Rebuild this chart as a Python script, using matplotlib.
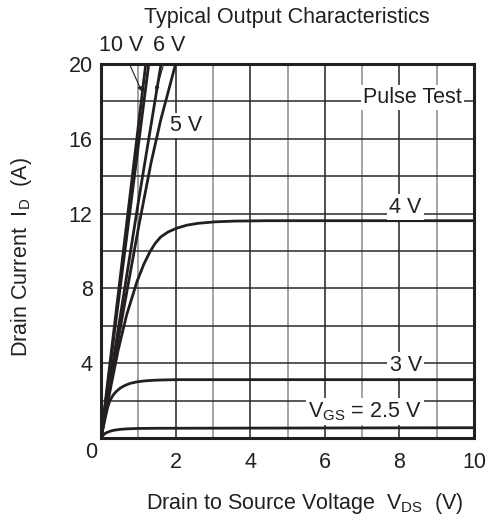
import matplotlib
matplotlib.use("Agg")
import matplotlib.pyplot as plt

plt.rcParams['font.family'] = ['Liberation Sans', 'DejaVu Sans']
plt.rcParams['mathtext.fontset'] = 'custom'
plt.rcParams['mathtext.rm'] = 'Liberation Sans'
plt.rcParams['mathtext.it'] = 'Liberation Sans'

# ---- data ----
v10_v = [0.0, 1.2, 1.4]
v10_i = [0.0, 20.0, 23.3]
v8_v = [0.0, 1.28, 1.5]
v8_i = [0.0, 20.0, 23.4]
v6_v = [0.0, 1.0, 1.61, 1.8]
v6_i = [0.0, 12.6, 20.0, 22.2]
v5_v = [0.0, 0.5, 1.0, 1.34, 1.6, 2.0, 2.2]
v5_i = [0.0, 5.7, 11.2, 14.7, 17.0, 20.0, 21.3]
v4_v = [0.0, 0.2, 0.46, 0.69, 0.97, 1.15, 1.31, 1.45, 1.6, 1.8, 2.03, 2.3, 2.6, 3.06, 3.6, 4.5, 10.0]
v4_i = [0.0, 2.1, 4.7, 6.6, 8.4, 9.3, 9.95, 10.4, 10.75, 11.02, 11.22, 11.38, 11.48, 11.56, 11.6, 11.62, 11.62]
v3_v = [0.0, 0.1, 0.18, 0.24, 0.32, 0.4, 0.51, 0.63, 0.78, 0.96, 1.15, 1.35, 1.58, 2.0, 10.0]
v3_i = [0.0, 0.95, 1.65, 2.0, 2.28, 2.47, 2.66, 2.8, 2.92, 3.0, 3.05, 3.08, 3.1, 3.12, 3.12]
v25_v = [0.0, 0.05, 0.12, 0.24, 0.36, 0.51, 0.7, 1.0, 1.5, 10.0]
v25_i = [0.0, 0.14, 0.26, 0.36, 0.42, 0.46, 0.49, 0.51, 0.52, 0.55]

curves = [(v10_v, v10_i), (v8_v, v8_i), (v6_v, v6_i), (v5_v, v5_i),
          (v4_v, v4_i), (v3_v, v3_i), (v25_v, v25_i)]

x_ticks = [2, 4, 6, 8, 10]
y_ticks = [4, 8, 12, 16, 20]

title = "Typical Output Characteristics"
xlabel = r"Drain to Source Voltage  $\mathrm{V_{DS}}$  (V)"
ylabel = r"Drain Current  $\mathrm{I_D}$  (A)"

ink = '#231f20'
fs = 15.5

fig = plt.figure(figsize=(4.91, 5.26), dpi=100)
ax = fig.add_axes([101/491, 1-438/526, 373/491, 374/526])
ax.set_xlim(0, 10)
ax.set_ylim(0, 20)

# grid
for v in range(1, 10):
    ax.axvline(v, color='#222222' if v % 2 == 0 else '#8a8a8a', lw=1.1, zorder=1)
for i in range(2, 20, 2):
    ax.axhline(i, color='#2a2a2a', lw=1.1, zorder=1)

for xv, yv in curves:
    ax.plot(xv, yv, color=ink, lw=2.0, solid_capstyle='butt', zorder=3)

for s in ax.spines.values():
    s.set_linewidth(2.2)
    s.set_color(ink)
    s.set_zorder(5)

ax.set_xticks(x_ticks)
ax.set_yticks(y_ticks)
ax.tick_params(length=0, labelsize=fs, colors=ink, pad=10)
ax.tick_params(axis='y', pad=6)
ax.text(-0.26, -0.75, "0", ha='center', va='center', fontsize=fs, color=ink,
        clip_on=False)

fig.text(287/491, 1-18/526, title, ha='center', va='center', fontsize=fs, color=ink)
fig.text(305/491, 1-503/526, xlabel, ha='center', va='center', fontsize=fs, color=ink)
fig.text(22/491, 1-257/526, ylabel, ha='center', va='center', rotation=90,
         fontsize=fs, color=ink)

bbox = dict(facecolor='white', edgecolor='none', pad=1.5)
ax.text(8.6, 12.35, "4 V", ha='right', va='center', fontsize=fs, color=ink, bbox=bbox, zorder=4)
ax.text(8.6, 3.9, "3 V", ha='right', va='center', fontsize=fs, color=ink, bbox=bbox, zorder=4)
ax.text(8.6, 1.4, r"$\mathrm{V_{GS}}$ = 2.5 V", ha='right', va='center', fontsize=fs,
        color=ink, bbox=bbox, zorder=4)
ax.text(9.68, 18.2, "Pulse Test", ha='right', va='center', fontsize=fs, color=ink,
        bbox=bbox, zorder=4)
ax.text(1.86, 16.7, "5 V", ha='left', va='center', fontsize=fs, color=ink, bbox=bbox, zorder=4)

ax.annotate("10 V", xy=(1.09, 18.54), xytext=(0.54, 21.0), ha='center', va='center',
            fontsize=fs, color=ink, annotation_clip=False,
            arrowprops=dict(arrowstyle='-|>', color=ink, lw=0.8, mutation_scale=6,
                            shrinkA=6, shrinkB=0))
ax.annotate("6 V", xy=(1.47, 18.54), xytext=(1.83, 21.0), ha='center', va='center',
            fontsize=fs, color=ink, annotation_clip=False,
            arrowprops=dict(arrowstyle='-|>', color=ink, lw=0.8, mutation_scale=6,
                            shrinkA=6, shrinkB=0))

fig.savefig("out.png", dpi=100)
